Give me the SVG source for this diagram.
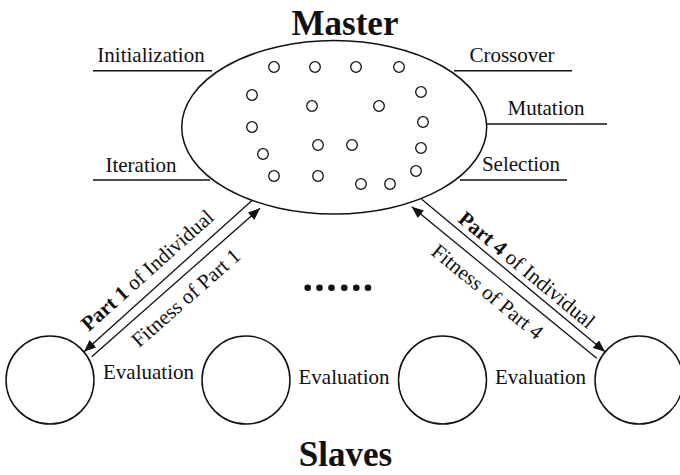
<svg xmlns="http://www.w3.org/2000/svg" width="680" height="475" viewBox="0 0 680 475">
<defs>
<style>
text{font-family:"Liberation Serif","Times New Roman",serif;fill:#111;}
.lbl{font-size:21px;}
.title{font-size:35px;font-weight:bold;}
.b{font-weight:bold;}
.ln{stroke:#111;stroke-width:1.4;fill:none;}
.dot{fill:none;stroke:#111;stroke-width:1.3;}
.slave{fill:#fff;stroke:#111;stroke-width:1.5;}
.arr{stroke:#111;stroke-width:1.3;fill:none;marker-end:url(#ah);}
</style>
<marker id="ah" viewBox="0 0 12 10" refX="12" refY="5" markerWidth="12" markerHeight="10" markerUnits="userSpaceOnUse" orient="auto">
<path d="M0,0 L12,5 L0,10 z" fill="#111"/>
</marker>
</defs>
<rect width="680" height="475" fill="#fff"/>

<g id="master">
<text class="title" x="345" y="35" text-anchor="middle">Master</text>
<ellipse cx="334.2" cy="127.3" rx="152.5" ry="86.7" fill="none" stroke="#111" stroke-width="1.5"/>
<g>
<circle class="dot" cx="274" cy="67" r="5.3"/>
<circle class="dot" cx="315" cy="67" r="5.3"/>
<circle class="dot" cx="356" cy="67" r="5.3"/>
<circle class="dot" cx="399" cy="67" r="5.3"/>
<circle class="dot" cx="252" cy="95" r="5.3"/>
<circle class="dot" cx="312" cy="106" r="5.3"/>
<circle class="dot" cx="379" cy="106" r="5.3"/>
<circle class="dot" cx="421" cy="92" r="5.3"/>
<circle class="dot" cx="252" cy="127" r="5.3"/>
<circle class="dot" cx="423" cy="122" r="5.3"/>
<circle class="dot" cx="318" cy="145" r="5.3"/>
<circle class="dot" cx="352" cy="145" r="5.3"/>
<circle class="dot" cx="421" cy="148" r="5.3"/>
<circle class="dot" cx="263" cy="154" r="5.3"/>
<circle class="dot" cx="416" cy="171" r="5.3"/>
<circle class="dot" cx="274" cy="176" r="5.3"/>
<circle class="dot" cx="318" cy="176" r="5.3"/>
<circle class="dot" cx="361" cy="184" r="5.3"/>
<circle class="dot" cx="390" cy="184" r="5.3"/>
</g>
</g>

<g id="operators">
<text class="lbl" x="151" y="62" text-anchor="middle">Initialization</text>
<line class="ln" x1="93" y1="70.7" x2="212" y2="70.7"/>
<text class="lbl" x="141" y="172" text-anchor="middle">Iteration</text>
<line class="ln" x1="93" y1="180" x2="210" y2="180"/>
<text class="lbl" x="512" y="62" text-anchor="middle">Crossover</text>
<line class="ln" x1="454" y1="70.7" x2="572" y2="70.7"/>
<text class="lbl" x="546" y="115" text-anchor="middle">Mutation</text>
<line class="ln" x1="487" y1="124" x2="607" y2="124"/>
<text class="lbl" x="521" y="171" text-anchor="middle">Selection</text>
<line class="ln" x1="460" y1="180" x2="567" y2="180"/>
</g>

<g id="connectors">
<line class="arr" x1="251.7" y1="200.7" x2="84" y2="351.7"/>
<line class="arr" x1="91.7" y1="356.7" x2="260" y2="208.3"/>
<line class="arr" x1="421.7" y1="199.3" x2="605" y2="351.7"/>
<line class="arr" x1="596.7" y1="358.3" x2="411.7" y2="206.7"/>
<g transform="translate(167,276.7) rotate(-41.8)">
<text class="lbl" x="-10.4" y="-11" text-anchor="middle"><tspan class="b">Part 1</tspan> of Individual</text>
</g>
<g transform="translate(175.9,282.5) rotate(-41.4)">
<text class="lbl" x="-2.7" y="25" text-anchor="middle">Fitness of Part 1</text>
</g>
<g transform="translate(513.4,275.5) rotate(39.7)">
<text class="lbl" x="6.7" y="-6" text-anchor="middle"><tspan class="b">Part 4</tspan> of Individual</text>
</g>
<g transform="translate(504.2,282.5) rotate(39.3)">
<text class="lbl" x="-7.1" y="24.7" text-anchor="middle">Fitness of Part 4</text>
</g>
</g>

<g id="ellipsis">
<circle cx="307.7" cy="287.7" r="3.3" fill="#111"/>
<circle cx="319.5" cy="287.7" r="3.3" fill="#111"/>
<circle cx="331.5" cy="287.7" r="3.3" fill="#111"/>
<circle cx="344.3" cy="287.7" r="3.3" fill="#111"/>
<circle cx="356.3" cy="287.7" r="3.3" fill="#111"/>
<circle cx="368" cy="287.7" r="3.3" fill="#111"/>
</g>

<g id="slave1"><circle class="slave" cx="50" cy="380" r="44"/></g>
<g id="slave2"><circle class="slave" cx="246" cy="380" r="44"/></g>
<g id="slave3"><circle class="slave" cx="442.5" cy="380" r="44"/></g>
<g id="slave4"><circle class="slave" cx="639" cy="380" r="44"/></g>

<g id="evaluations">
<text class="lbl" x="148.5" y="379" text-anchor="middle">Evaluation</text>
<text class="lbl" x="344" y="384" text-anchor="middle">Evaluation</text>
<text class="lbl" x="540.5" y="384" text-anchor="middle">Evaluation</text>
</g>

<text class="title" x="345.5" y="466" text-anchor="middle">Slaves</text>
</svg>
